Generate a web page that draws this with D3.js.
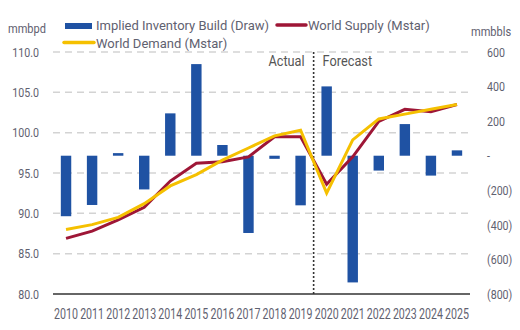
<!DOCTYPE html>
<html>
<head>
<meta charset="utf-8">
<script src="https://cdn.jsdelivr.net/npm/d3@7/dist/d3.min.js"></script>
<style>
  html, body { margin: 0; padding: 0; background: #fff; }
  svg text { font-family: "Roboto", "Liberation Sans", sans-serif; }
</style>
</head>
<body>
<svg id="chart" width="520" height="330"></svg>
<script>
// Years on the category axis
const years = ["2010","2011","2012","2013","2014","2015","2016","2017","2018","2019","2020","2021","2022","2023","2024","2025"];
// Implied inventory build (+) / draw (-), mmbbls
const inventoryBuild = [-350, -285, 15, -195, 245, 530, 62, -447, -18, -287, 401, -733, -86, 183, -115, 31];
// World supply, mmbpd
const worldSupply = [86.9, 87.8, 89.2, 90.75, 94.0, 96.2, 96.4, 97.0, 99.5, 99.5, 93.6, 97.0, 101.4, 102.9, 102.6, 103.5];
// World demand, mmbpd
const worldDemand = [88.0, 88.6, 89.5, 91.2, 93.4, 94.8, 96.6, 98.1, 99.6, 100.3, 92.5, 99.1, 101.7, 102.3, 102.9, 103.5];
// Axis ticks
const leftTicks = [80, 85, 90, 95, 100, 105, 110];
const rightTicks = [-800, -600, -400, -200, 0, 200, 400, 600];

const svg = d3.select("#chart");
const plot = { left: 53, right: 470, top: 52, bottom: 294 };

const x = d3.scaleBand().domain(years).range([plot.left, plot.right]).paddingInner(0.6).paddingOuter(0.3);
const yL = d3.scaleLinear().domain([80, 110]).range([plot.bottom, plot.top]);
const yR = d3.scaleLinear().domain([-800, 600]).range([plot.bottom, plot.top]);
const cx = d => x(d) + x.bandwidth() / 2;

const textColor = "#5f6170";

// Narrow the glyphs horizontally while keeping each text's anchor point
function condense(sel, f) {
  sel.each(function () {
    const t = d3.select(this);
    const xv = +t.attr("x") || 0;
    t.attr("x", xv / f).attr("transform", `scale(${f},1)`);
  });
}

// Dashed horizontal gridlines
svg.append("g").selectAll("line")
  .data(leftTicks.filter(t => t > 80))
  .join("line")
  .attr("x1", plot.left).attr("x2", plot.right)
  .attr("y1", d => yL(d)).attr("y2", d => yL(d))
  .attr("stroke", "#d3d3d3").attr("stroke-width", 1.5)
  .attr("stroke-dasharray", "7,5");

// Left axis labels
const leftAxis = d3.axisLeft(yL).tickValues(leftTicks).tickFormat(d3.format(".1f")).tickSize(0).tickPadding(14);
const gL = svg.append("g").attr("transform", `translate(${plot.left},0)`).call(leftAxis);
gL.select(".domain").remove();
gL.selectAll("text").attr("fill", textColor).attr("font-size", 13).call(condense, 0.82);

// Right axis labels
const rightFmt = d => d === 0 ? "-" : (d < 0 ? `(${Math.abs(d)})` : `${d}`);
const rightAxis = d3.axisRight(yR).tickValues(rightTicks).tickFormat(rightFmt).tickSize(0).tickPadding(17);
const gR = svg.append("g").attr("transform", `translate(${plot.right},0)`).call(rightAxis);
gR.select(".domain").remove();
gR.selectAll("text").attr("fill", textColor).attr("font-size", 13).call(condense, 0.82);

// Year labels
const bottomAxis = d3.axisBottom(x).tickSize(0).tickPadding(14);
const gB = svg.append("g").attr("transform", `translate(0,${plot.bottom})`).call(bottomAxis);
gB.select(".domain").remove();
gB.selectAll("text").attr("fill", textColor).attr("font-size", 15).call(condense, 0.71);

// Inventory bars
svg.append("g").selectAll("rect")
  .data(years.map((y, i) => ({ y, v: inventoryBuild[i] })))
  .join("rect")
  .attr("x", d => x(d.y))
  .attr("width", x.bandwidth())
  .attr("y", d => yR(Math.max(0, d.v)))
  .attr("height", d => Math.abs(yR(d.v) - yR(0)))
  .attr("fill", "#1f52a3");

// Baseline
svg.append("line")
  .attr("x1", plot.left).attr("x2", plot.right)
  .attr("y1", plot.bottom).attr("y2", plot.bottom)
  .attr("stroke", "#333").attr("stroke-width", 1.5);

// Actual / forecast divider
const divX = (cx("2019") + cx("2020")) / 2;
svg.append("line")
  .attr("x1", divX).attr("x2", divX)
  .attr("y1", plot.top).attr("y2", plot.bottom)
  .attr("stroke", "#333").attr("stroke-width", 1.6)
  .attr("stroke-dasharray", "2,2");
svg.append("text").attr("x", divX - 9).attr("y", 66).attr("text-anchor", "end")
  .attr("font-size", 15).attr("fill", "#555").text("Actual").call(condense, 0.85);
svg.append("text").attr("x", divX + 9).attr("y", 66).attr("text-anchor", "start")
  .attr("font-size", 15).attr("fill", "#555").text("Forecast").call(condense, 0.85);

// Supply and demand lines
const line = d3.line().x((d, i) => cx(years[i])).y(d => yL(d));
svg.append("path").datum(worldSupply).attr("d", line)
  .attr("fill", "none").attr("stroke", "#9e1636").attr("stroke-width", 3).attr("stroke-linejoin", "miter");
svg.append("path").datum(worldDemand).attr("d", line)
  .attr("fill", "none").attr("stroke", "#f5c000").attr("stroke-width", 3).attr("stroke-linejoin", "miter");

// Axis titles
svg.append("text").attr("x", 8).attr("y", 33).attr("font-size", 13).attr("fill", textColor).text("mmbpd").call(condense, 0.85);
svg.append("text").attr("x", 471).attr("y", 36).attr("font-size", 13).attr("fill", textColor).text("mmbbls").call(condense, 0.85);

// Legend
const legend = svg.append("g");
legend.append("rect").attr("x", 65).attr("y", 23).attr("width", 27).attr("height", 6).attr("fill", "#1f52a3");
legend.append("text").attr("x", 96).attr("y", 30).attr("font-size", 13).attr("fill", textColor).text("Implied Inventory Build (Draw)");
legend.append("line").attr("x1", 64).attr("x2", 94).attr("y1", 42.5).attr("y2", 42.5)
  .attr("stroke", "#f5c000").attr("stroke-width", 3.5).attr("stroke-linecap", "round");
legend.append("text").attr("x", 96).attr("y", 48).attr("font-size", 13).attr("fill", textColor).text("World Demand (Mstar)");
legend.append("line").attr("x1", 277).attr("x2", 306).attr("y1", 25).attr("y2", 25)
  .attr("stroke", "#9e1636").attr("stroke-width", 3.5).attr("stroke-linecap", "round");
legend.append("text").attr("x", 308).attr("y", 30).attr("font-size", 13).attr("fill", textColor).text("World Supply (Mstar)");
</script>
</body>
</html>
